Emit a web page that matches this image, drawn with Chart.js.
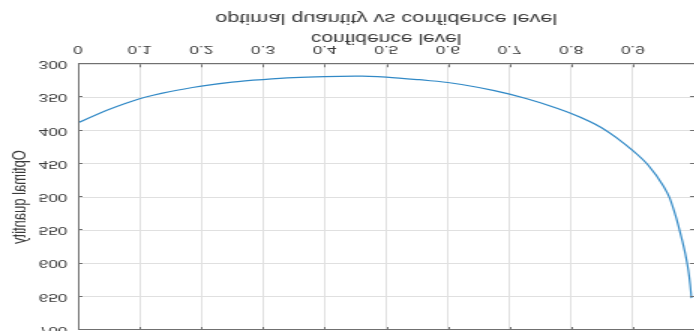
<!DOCTYPE html>
<html>
<head>
<meta charset="utf-8">
<script src="https://cdn.jsdelivr.net/npm/chart.js@4/dist/chart.umd.min.js"></script>
<style>
  html, body { margin: 0; padding: 0; background: #ffffff; }
  #frame { position: relative; width: 694px; height: 331px; overflow: hidden; background: #ffffff; }
  /* figure is drawn on a narrow canvas, then stretched sideways and mirrored top-to-bottom */
  #plot { position: absolute; left: 0; top: 0; width: 464px; height: 345px;
          transform-origin: 0 50%; transform: scale(1.5, -1); }
</style>
</head>
<body>
<div id="frame"><canvas id="plot" width="464" height="345"></canvas></div>
<script>
// confidence level (x) and optimal order quantity (y)
const confidenceLevel = [0, 0.05, 0.1, 0.15, 0.2, 0.25, 0.3, 0.35, 0.4, 0.45, 0.5, 0.55, 0.6, 0.65,
  0.7, 0.75, 0.8, 0.85, 0.9, 0.925, 0.95, 0.96, 0.97, 0.975, 0.98, 0.985, 0.99, 0.993, 0.995];
const optimalQuantity = [388, 368, 352, 341, 333, 327, 323, 320, 318.5, 318, 319.5, 323, 327.5, 335,
  345, 358, 374, 396, 430, 452, 484, 502, 530, 547, 565, 585, 610, 632, 652];

const xTicks = [0, 0.1, 0.2, 0.3, 0.4, 0.5, 0.6, 0.7, 0.8, 0.9, 1];
const yTicks = [300, 350, 400, 450, 500, 550, 600, 650, 700];

const titleText = 'optimal quantity vs confidence level';
const xLabel = 'confidence level';
const yLabel = 'Optimal quantity';

const FONT = '"Liberation Sans", Arial, Helvetica, sans-serif';
const TEXT = '#3a3a3a';
const AXIS = '#707070';
const GRID = '#e0e0e0';

// short inward tick marks on all four sides of the box
const innerTicks = {
  id: 'innerTicks',
  afterDraw(chart) {
    const { ctx, chartArea: a, scales: { x, y } } = chart;
    const len = 3;
    ctx.save();
    ctx.strokeStyle = AXIS;
    ctx.lineWidth = 1;
    ctx.beginPath();
    xTicks.forEach(v => {
      const px = Math.round(x.getPixelForValue(v)) + 0.5;
      ctx.moveTo(px, a.bottom); ctx.lineTo(px, a.bottom - len);
      ctx.moveTo(px, a.top); ctx.lineTo(px, a.top + len);
    });
    yTicks.forEach(v => {
      const py = Math.round(y.getPixelForValue(v)) + 0.5;
      ctx.moveTo(a.left, py); ctx.lineTo(a.left + len, py);
      ctx.moveTo(a.right, py); ctx.lineTo(a.right - len, py);
    });
    ctx.stroke();
    // box edges
    ctx.strokeRect(Math.round(a.left) + 0.5, Math.round(a.top) + 0.5,
      Math.round(a.right - a.left), Math.round(a.bottom - a.top));
    ctx.restore();
  }
};

new Chart(document.getElementById('plot'), {
  type: 'line',
  data: {
    datasets: [{
      data: confidenceLevel.map((c, i) => ({ x: c, y: optimalQuantity[i] })),
      borderColor: '#3189c6',
      borderWidth: 1.2,
      pointRadius: 0,
      fill: false,
      cubicInterpolationMode: 'monotone'
    }]
  },
  options: {
    responsive: false,
    devicePixelRatio: 1,
    animation: false,
    layout: { padding: { top: 15, right: 1, bottom: 11.25, left: 0 } },
    plugins: {
      legend: { display: false },
      tooltip: { enabled: false },
      title: {
        display: true,
        fullSize: false,
        position: 'bottom',
        text: titleText,
        color: TEXT,
        font: { family: FONT, size: 14.5, weight: 'normal', lineHeight: 1.0 },
        padding: { top: 1, bottom: 0 }
      }
    },
    scales: {
      x: {
        type: 'linear',
        min: 0,
        max: 1,
        afterBuildTicks: s => { s.ticks = xTicks.map(v => ({ value: v })); },
        afterFit: s => { s.paddingRight = 0; s.paddingLeft = 0; },
        ticks: {
          color: TEXT,
          padding: 9.25,
          maxRotation: 0,
          font: { family: FONT, size: 11.5, lineHeight: 1.0 },
          callback: v => (v === 1 ? '' : String(v))
        },
        grid: { color: GRID, drawTicks: false },
        border: { display: false },
        title: {
          display: true,
          text: xLabel,
          color: TEXT,
          font: { family: FONT, size: 14, lineHeight: 1.0 },
          padding: { top: -11, bottom: 4.5 }
        }
      },
      y: {
        min: 300,
        max: 700,
        afterBuildTicks: s => { s.ticks = yTicks.map(v => ({ value: v })); },
        afterFit: s => { s.width = 52; s.paddingTop = 0; s.paddingBottom = 0; },
        ticks: {
          color: TEXT,
          padding: 7,
          font: { family: FONT, size: 11.5 }
        },
        grid: { color: GRID, drawTicks: false },
        border: { display: false },
        title: {
          display: true,
          text: yLabel,
          color: TEXT,
          font: { family: FONT, size: 13, lineHeight: 1.2 },
          padding: { top: 5.5, bottom: 0 }
        }
      }
    }
  },
  plugins: [innerTicks]
});
</script>
</body>
</html>
